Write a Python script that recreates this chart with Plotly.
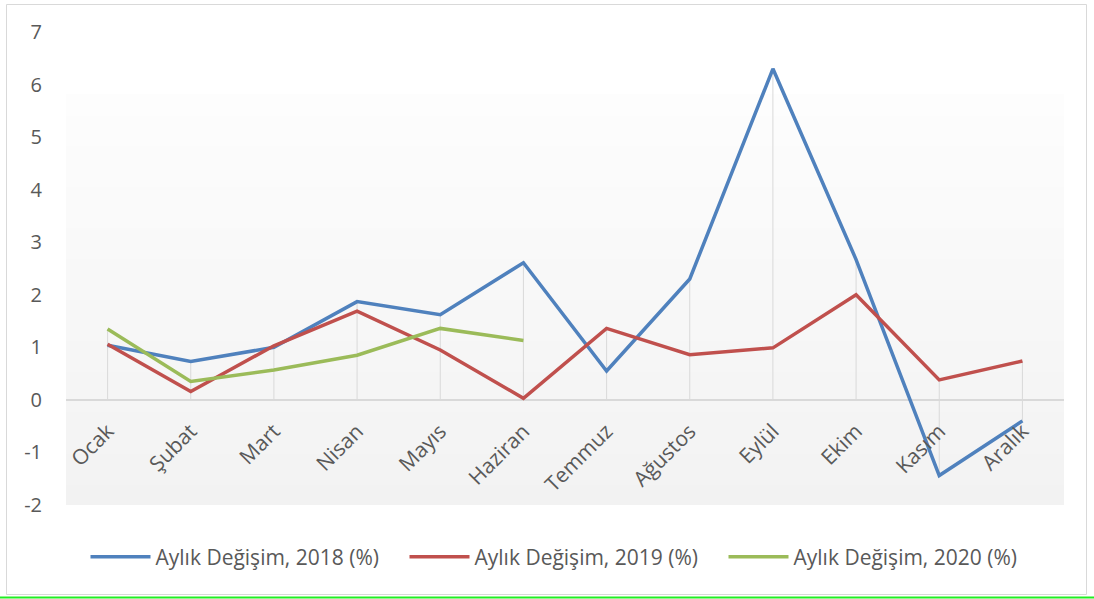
import plotly.graph_objects as go

months = ["Ocak", "Şubat", "Mart", "Nisan", "Mayıs", "Haziran", "Temmuz",
          "Ağustos", "Eylül", "Ekim", "Kasım", "Aralık"]
v2018 = [1.04, 0.73, 1.00, 1.87, 1.62, 2.61, 0.55, 2.30, 6.30, 2.67, -1.44, -0.40]
v2019 = [1.06, 0.16, 1.03, 1.69, 0.95, 0.03, 1.36, 0.86, 0.99, 2.00, 0.38, 0.74]
v2020 = [1.35, 0.35, 0.57, 0.85, 1.36, 1.13]
names = ["Aylık Değişim, 2018 (%)", "Aylık Değişim, 2019 (%)", "Aylık Değişim, 2020 (%)"]
colors = ["#4F81BD", "#C0504D", "#9BBB59"]
yticks = [-2, -1, 0, 1, 2, 3, 4, 5, 6, 7]
ytext = ["-2", "-1", "0", "1", "2", "3", "4", "5", "6", "7"]

W, H = 1094, 599
L, R, T, B = 66, 1064, 32, 505  # plot area in pixels
ML, MR, MT, MB = L, W - R, T, H - B
YMIN, YMAX = -2, 7


def px(x):
    return (x - L) / (R - L)


def py(y):
    return (B - y) / (B - T)


fig = go.Figure()

# drop lines from each category's extreme values to the axis
dx, dy = [], []
series = [v2018, v2019, v2020]
for i, m in enumerate(months):
    vals = [s[i] for s in series if i < len(s)]
    lo, hi = min([0] + vals), max([0] + vals)
    dx += [m, m, None]
    dy += [lo, hi, None]
fig.add_trace(go.Scatter(x=dx, y=dy, mode="lines", line=dict(color="#d9d9d9", width=1),
                         hoverinfo="skip", showlegend=False))

for s, n, c in zip(series, names, colors):
    fig.add_trace(go.Scatter(x=months[:len(s)], y=s, mode="lines", name=n,
                             line=dict(color=c, width=3.5)))

shapes = []
# gradient background of the plot area
top_frac = py(95)
N = 40
c0 = (0xf2, 0xf2, 0xf2)
c1 = (0xfd, 0xfd, 0xfd)
for k in range(N):
    t = (k + 0.5) / N
    col = tuple(round(c0[j] + (c1[j] - c0[j]) * t) for j in range(3))
    shapes.append(dict(type="rect", xref="paper", yref="paper", x0=0, x1=1,
                       y0=top_frac * k / N, y1=top_frac * (k + 1) / N + 0.002,
                       fillcolor="rgb(%d,%d,%d)" % col, line=dict(width=0), layer="below"))
# outer chart border
shapes.append(dict(type="rect", xref="paper", yref="paper", x0=px(6.5), x1=px(1086.5),
                   y0=py(594.5), y1=py(4.5), line=dict(color="#d9d9d9", width=1),
                   fillcolor="rgba(0,0,0,0)", layer="below"))
shapes.append(dict(type="line", xref="paper", yref="paper", x0=px(0), x1=px(1094),
                   y0=py(597.5), y1=py(597.5), line=dict(color="#22ee22", width=2)))

fig.update_layout(
    width=W, height=H,
    margin=dict(l=ML, r=MR, t=MT, b=MB, pad=0, autoexpand=False),
    paper_bgcolor="white", plot_bgcolor="white",
    font=dict(family="Open Sans", color="#595959"),
    shapes=shapes,
    showlegend=True,
    legend=dict(orientation="h", x=px(564), xanchor="center", y=py(557), yanchor="middle",
                font=dict(size=21, color="#595959"), bgcolor="rgba(0,0,0,0)",
                itemwidth=60, traceorder="normal", entrywidth=244, entrywidthmode="pixels"),
    xaxis=dict(type="category", categoryorder="array", categoryarray=months,
               range=[-0.5, 11.5], showgrid=False, zeroline=False, showline=False,
               anchor="free", position=(0 - YMIN) / (YMAX - YMIN),
               tickangle=-45, tickfont=dict(size=21, color="#595959"),
               ticks="", ticklabelstandoff=14),
    yaxis=dict(range=[YMIN, YMAX], tickvals=yticks, ticktext=ytext, showgrid=False,
               zeroline=True, zerolinecolor="#d9d9d9", zerolinewidth=2,
               showline=False, ticks="", tickfont=dict(size=20, color="#595959"),
               ticklabelstandoff=23),
)

fig.write_html("out.html")
